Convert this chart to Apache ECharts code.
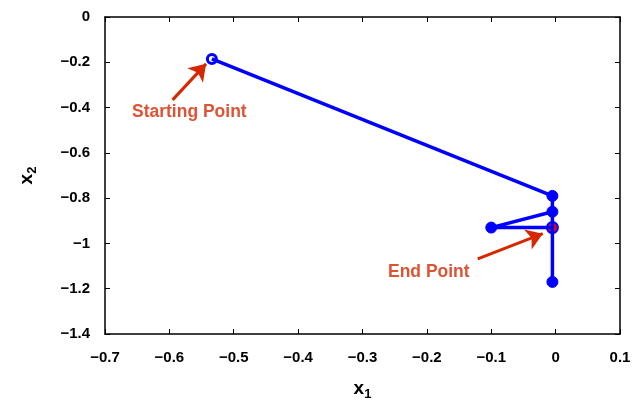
<!DOCTYPE html>
<html lang="en">
<head>
    <meta charset="UTF-8">
    <title>Trajectory</title>
    <script src="https://cdn.jsdelivr.net/npm/echarts@6/dist/echarts.min.js"></script>
    <style>
    html, body { padding: 0; margin: 0; width: 100%; height: 100%; background: #fff; }
    #main { width: 644px; height: 406px; }
    </style>
</head>
<body>
<div id="main"></div>
<script type="text/javascript">
// data points
var startPoint = [-0.534, -0.185];
var verticalPath = [[-0.534, -0.185], [-0.005, -0.79], [-0.005, -1.17]];
var branchPath = [[-0.005, -0.86], [-0.1, -0.93], [-0.005, -0.93]];
var dotPoints = [[-0.005, -0.79], [-0.005, -0.86], [-0.1, -0.93], [-0.005, -1.17]];
var endPoint = [-0.005, -0.93];
// annotations: arrows (tail -> tip) and labels
var startArrow = [[-0.595, -0.366], [-0.543, -0.207]];
var endArrow = [[-0.121, -1.068], [-0.020, -0.957]];
var notes = [
    { name: 'Starting Point', pos: [-0.569, -0.422] },
    { name: 'End Point', pos: [-0.197, -1.129] }
];

var BLUE = '#0000ff';
var RED = '#d62800';
var font = 'Liberation Sans, Arial, Helvetica, sans-serif';

function fmt(v) {
    var s = String(Math.round(v * 10) / 10);
    return s.replace('-', '\u2212');
}

var chart = echarts.init(document.getElementById('main'));
var tickStyle = { inside: true, length: 5, lineStyle: { color: '#000', width: 1 } };
var lineStyle = { onZero: false, lineStyle: { color: '#000', width: 1.5 } };

var option = {
    animation: false,
    grid: { left: 105, right: 24, top: 17, bottom: 64 },
    xAxis: [{
        type: 'value', min: -0.7, max: 0.1, interval: 0.1,
        axisLine: lineStyle, axisTick: tickStyle, splitLine: { show: false },
        axisLabel: { color: '#000', fontFamily: font, fontWeight: 'bold', fontSize: 15, margin: 16, formatter: fmt },
        name: '{b|x}{s|1}', nameLocation: 'middle', nameGap: 42,
        nameTextStyle: { rich: {
            b: { fontFamily: font, fontWeight: 'bold', fontSize: 19, color: '#000' },
            s: { fontFamily: font, fontWeight: 'bold', fontSize: 13, color: '#000', padding: [12, 0, 0, 0] }
        } }
    }, {
        type: 'value', position: 'top', min: -0.7, max: 0.1, interval: 0.1,
        axisLine: lineStyle, axisTick: tickStyle, axisLabel: { show: false }, splitLine: { show: false }
    }],
    yAxis: [{
        type: 'value', min: -1.4, max: 0, interval: 0.2,
        axisLine: lineStyle, axisTick: tickStyle, splitLine: { show: false },
        axisLabel: { color: '#000', fontFamily: font, fontWeight: 'bold', fontSize: 15, margin: 15, formatter: fmt },
        name: '{b|x}{s|2}', nameLocation: 'middle', nameGap: 66,
        nameTextStyle: { rich: {
            b: { fontFamily: font, fontWeight: 'bold', fontSize: 19, color: '#000' },
            s: { fontFamily: font, fontWeight: 'bold', fontSize: 13, color: '#000', padding: [12, 0, 0, 0] }
        } }
    }, {
        type: 'value', position: 'right', min: -1.4, max: 0, interval: 0.2,
        axisLine: lineStyle, axisTick: tickStyle, axisLabel: { show: false }, splitLine: { show: false }
    }],
    series: [{
        type: 'line', data: verticalPath, symbol: 'none',
        lineStyle: { color: BLUE, width: 3.5 }
    }, {
        type: 'line', data: branchPath, symbol: 'none',
        lineStyle: { color: BLUE, width: 3.5 }
    }, {
        type: 'scatter', data: dotPoints, symbolSize: 11,
        itemStyle: { color: BLUE, borderColor: BLUE, borderWidth: 1, opacity: 1 }
    }, {
        type: 'scatter', data: [startPoint], symbolSize: 9,
        itemStyle: { color: '#fff', borderColor: BLUE, borderWidth: 3, opacity: 1 }
    }, {
        type: 'scatter', data: [endPoint], symbolSize: 11,
        itemStyle: { color: '#ff0000', borderColor: BLUE, borderWidth: 2, opacity: 1 }
    }, {
        type: 'lines', coordinateSystem: 'cartesian2d', silent: true,
        data: [{ coords: startArrow }, { coords: endArrow }],
        symbol: ['none', 'arrow'], symbolSize: 16,
        lineStyle: { color: RED, width: 3, opacity: 1 }
    }, {
        type: 'scatter', symbolSize: 0, silent: true,
        data: notes.map(function (n) { return { name: n.name, value: n.pos }; }),
        label: { show: true, position: 'inside', formatter: '{b}', color: RED,
            fontFamily: font, fontWeight: 'bold', fontSize: 17.5 }
    }]
};
chart.setOption(option);
</script>
</body>
</html>
